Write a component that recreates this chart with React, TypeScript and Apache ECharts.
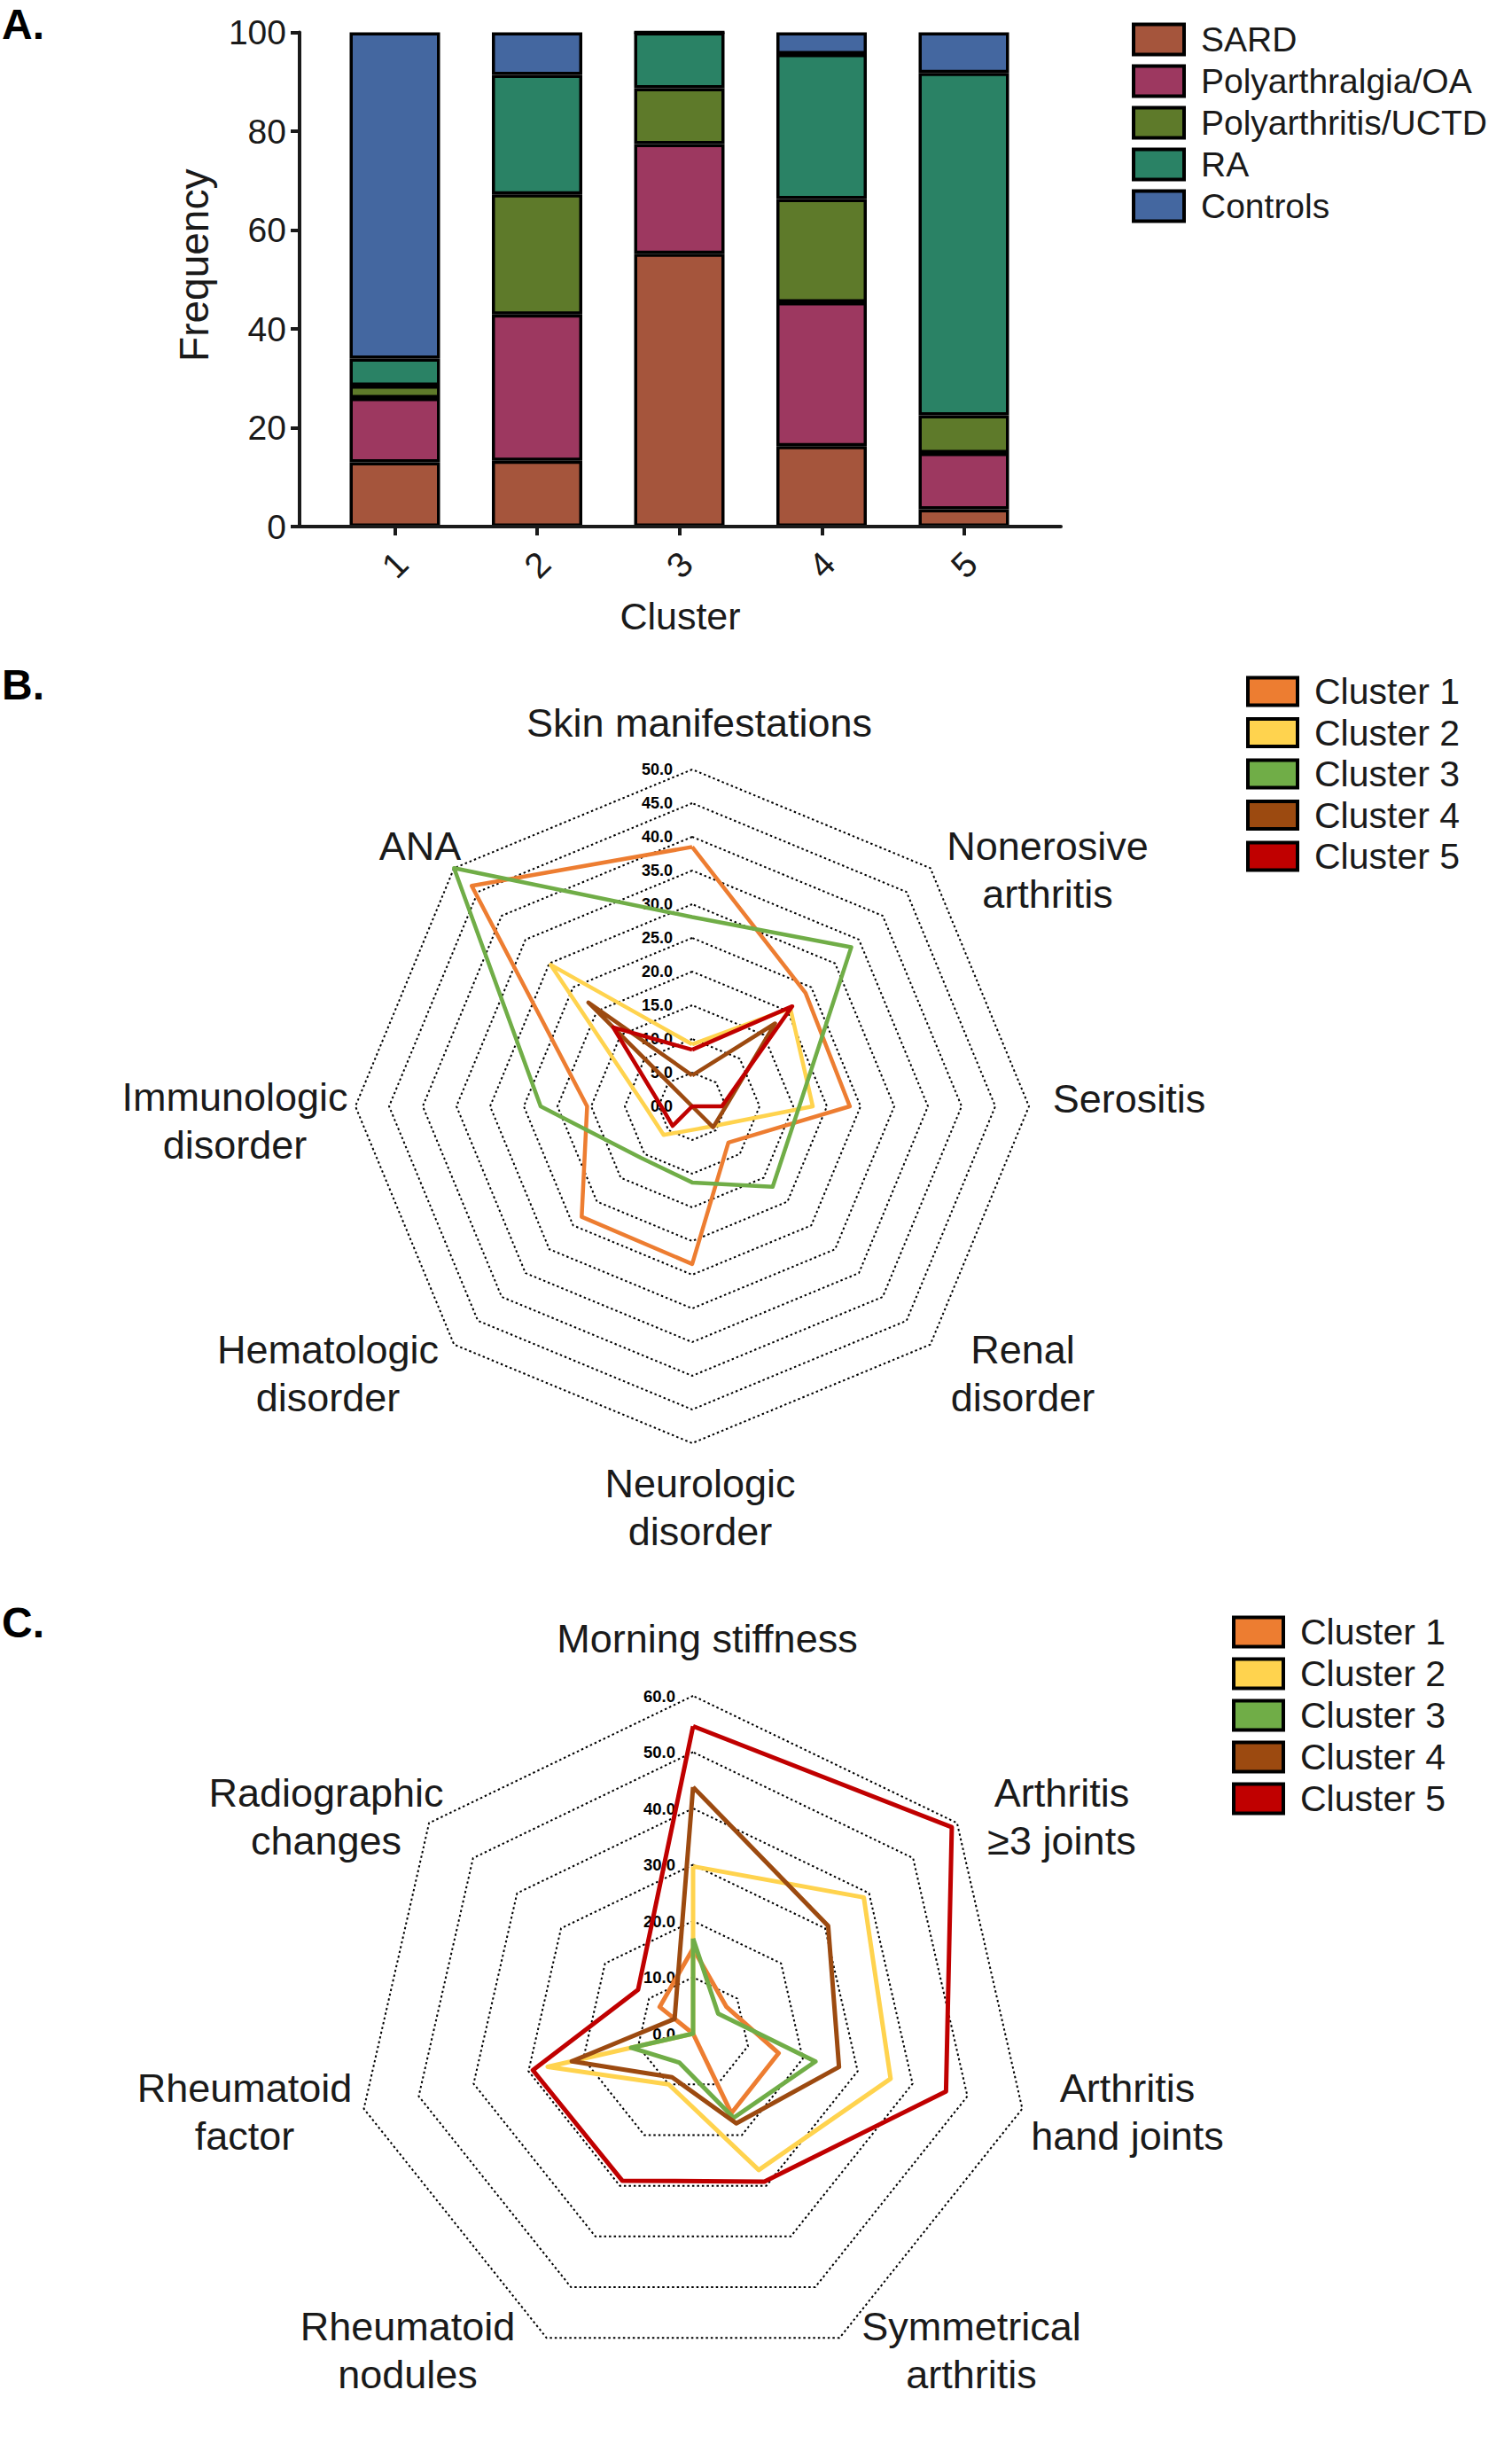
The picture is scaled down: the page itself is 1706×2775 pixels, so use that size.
import React, { useEffect, useRef } from 'react';
import * as echarts from 'echarts';

// ---------- Panel A data ----------
const clusterLabels = ['1', '2', '3', '4', '5'];
const clusterPositions = [1, 2, 3, 4, 5];
const diagnosisNames = ['SARD', 'Polyarthralgia/OA', 'Polyarthritis/UCTD', 'RA', 'Controls'];
const sardValues = [13.0, 13.3, 55.2, 16.3, 3.5];
const polyarthralgiaValues = [13.0, 29.6, 22.2, 29.1, 11.4];
const polyarthritisValues = [2.5, 24.3, 11.3, 20.9, 7.6];
const raValues = [5.5, 24.2, 11.3, 29.3, 69.3];
const controlsValues = [66.0, 8.6, 0.0, 4.4, 8.2];
const diagnosisColors = ['#A5553C', '#9D3860', '#5E7A2A', '#2A8265', '#4467A0'];

// ---------- Panel B data (indicator order counter-clockwise from top) ----------
const sleIndicators = [
  'Skin manifestations',
  'ANA',
  'Immunologic\ndisorder',
  'Hematologic\ndisorder',
  'Neurologic\ndisorder',
  'Renal\ndisorder',
  'Serositis',
  'Nonerosive\narthritis',
];
const sleMax = 50;
const sleCluster1 = [38.5, 46.3, 15.6, 23.2, 23.4, 7.6, 23.4, 23.8];
const sleCluster2 = [9.2, 29.7, 7.0, 6.0, 3.5, 4.2, 17.9, 20.6];
const sleCluster3 = [28.1, 50.0, 22.5, 10.8, 11.3, 16.9, 15.9, 33.4];
const sleCluster4 = [4.6, 21.8, 0.0, 0.0, 0.0, 4.4, 5.0, 17.4];
const sleCluster5 = [8.4, 16.6, 4.6, 4.1, 0.0, 0.0, 4.4, 21.0];

// ---------- Panel C data (indicator order counter-clockwise from top) ----------
const raIndicators = [
  'Morning stiffness',
  'Radiographic\nchanges',
  'Rheumatoid\nfactor',
  'Rheumatoid\nnodules',
  'Symmetrical\narthritis',
  'Arthritis\nhand joints',
  'Arthritis\n≥3 joints',
];
const raMax = 60;
const raCluster1 = [15.1, 7.6, 0.0, 0.0, 15.7, 15.6, 7.6];
const raCluster2 = [29.7, 0.0, 26.5, 10.0, 26.9, 36.0, 38.8];
const raCluster3 = [16.9, 0.0, 11.3, 5.7, 16.6, 22.3, 5.7];
const raCluster4 = [43.8, 4.2, 22.1, 8.6, 17.7, 26.6, 30.7];
const raCluster5 = [54.6, 12.5, 29.2, 29.0, 29.2, 46.1, 58.8];

const clusterNames = ['Cluster 1', 'Cluster 2', 'Cluster 3', 'Cluster 4', 'Cluster 5'];
const clusterColors = ['#ED7D31', '#FFD34E', '#70AD47', '#9C4A10', '#C00000'];

const FONT = '"Liberation Sans", Arial, Helvetica, sans-serif';
const INK = '#1a1a1a';

// label layout (positions only)
const sleNamePos: [number, number][] = [
  [789, 815],
  [474, 954],
  [265, 1264],
  [370, 1549],
  [790, 1700],
  [1154, 1549],
  [1274, 1239],
  [1182, 981],
];
const raNamePos: [number, number][] = [
  [798, 1848],
  [368, 2049],
  [276, 2382],
  [460, 2651],
  [1096, 2651],
  [1272, 2382],
  [1198, 2049],
];

function buildOption(): any {
  const barSeriesValues = [sardValues, polyarthralgiaValues, polyarthritisValues, raValues, controlsValues];
  const barSeries = diagnosisNames.map((name, si) => ({
    type: 'bar',
    name,
    stack: 'total',
    xAxisIndex: 1,
    yAxisIndex: 1,
    barWidth: 102,
    itemStyle: { color: diagnosisColors[si], borderColor: '#000', borderWidth: 3.5 },
    data: barSeriesValues[si],
  }));

  const sleData = [sleCluster1, sleCluster2, sleCluster3, sleCluster4, sleCluster5];
  const raData = [raCluster1, raCluster2, raCluster3, raCluster4, raCluster5];

  const radarCommon = {
    shape: 'polygon',
    startAngle: 90,
    axisName: { show: false },
    axisLine: { show: false },
    axisTick: { show: false },
    splitArea: { show: false },
    splitLine: { lineStyle: { color: '#000', width: 2, type: [2.5, 3] } },
  };

  const legendCommon = {
    orient: 'vertical',
    icon: 'rect',
    padding: 0,
    selectedMode: false,
    itemStyle: { borderColor: '#000', borderWidth: 4 },
  };

  const graphic: any[] = [
    { type: 'text', x: 2, y: 27.5, style: { text: 'A.', fontSize: 48, fontWeight: 'bold', fontFamily: FONT, fill: '#000', align: 'left', verticalAlign: 'middle' } },
    { type: 'text', x: 2, y: 772, style: { text: 'B.', fontSize: 48, fontWeight: 'bold', fontFamily: FONT, fill: '#000', align: 'left', verticalAlign: 'middle' } },
    { type: 'text', x: 2, y: 1830, style: { text: 'C.', fontSize: 48, fontWeight: 'bold', fontFamily: FONT, fill: '#000', align: 'left', verticalAlign: 'middle' } },
  ];
  sleIndicators.forEach((name, i) => {
    graphic.push({
      type: 'text', x: sleNamePos[i][0], y: sleNamePos[i][1],
      style: { text: name, fontSize: 45, fontFamily: FONT, fill: INK, align: 'center', verticalAlign: 'middle', lineHeight: 54 },
    });
  });
  raIndicators.forEach((name, i) => {
    graphic.push({
      type: 'text', x: raNamePos[i][0], y: raNamePos[i][1],
      style: { text: name, fontSize: 45, fontFamily: FONT, fill: INK, align: 'center', verticalAlign: 'middle', lineHeight: 54 },
    });
  });

  return {
    animation: false,
    backgroundColor: '#ffffff',
    textStyle: { fontFamily: FONT },
    grid: [
      // visible axes frame
      { left: 338, top: 36.5, width: 859, height: 557.5 },
      // bar plotting area (category bands centred on the cluster ticks)
      { left: 365.25, top: 36.5, width: 802.5, height: 557.5 },
    ],
    xAxis: [
      {
        type: 'value',
        gridIndex: 0,
        min: 0.33,
        max: 5.68,
        splitLine: { show: false },
        axisLine: { show: true, onZero: false, lineStyle: { color: INK, width: 4 } },
        axisTick: { show: true, customValues: clusterPositions, length: 10, inside: false, lineStyle: { color: INK, width: 4 } },
        axisLabel: {
          customValues: clusterPositions,
          formatter: (v: number) => clusterLabels[Math.round(v) - 1] ?? '',
          rotate: 45,
          align: 'center',
          verticalAlign: 'middle',
          margin: 43,
          fontSize: 40,
          color: INK,
          fontFamily: FONT,
        },
        name: 'Cluster',
        nameLocation: 'middle',
        nameGap: 79,
        nameTextStyle: { fontSize: 43, color: INK, fontFamily: FONT, verticalAlign: 'top' },
        z: 5,
      },
      {
        type: 'category',
        gridIndex: 1,
        data: clusterLabels,
        show: false,
      },
    ],
    yAxis: [
      {
        type: 'value',
        gridIndex: 0,
        min: 0,
        max: 100,
        interval: 20,
        splitLine: { show: false },
        axisLine: { show: true, onZero: false, lineStyle: { color: INK, width: 4 } },
        axisTick: { show: true, length: 10, inside: false, lineStyle: { color: INK, width: 4 } },
        axisLabel: { fontSize: 39, color: INK, margin: 15, fontFamily: FONT },
        name: 'Frequency',
        nameLocation: 'middle',
        nameRotate: 90,
        nameGap: 96,
        nameTextStyle: { fontSize: 46, color: INK, fontFamily: FONT, padding: [0, 0, 0, 32] },
        z: 5,
      },
      {
        type: 'value',
        gridIndex: 1,
        min: 0,
        max: 100,
        interval: 20,
        show: false,
        splitLine: { show: false },
      },
    ],
    radar: [
      {
        ...radarCommon,
        center: [781, 1248],
        radius: 380,
        splitNumber: 10,
        indicator: sleIndicators.map((name, i) => (
          i === 0
            ? { name, min: 0, max: sleMax, axisLabel: { show: true } }
            : { name, min: 0, max: sleMax }
        )),
        axisLabel: {
          show: false,
          formatter: (v: number) => Number(v).toFixed(1),
          fontSize: 18,
          fontWeight: 'bold',
          color: '#000',
          margin: 22,
          fontFamily: FONT,
        },
      },
      {
        ...radarCommon,
        center: [782, 2294],
        radius: 381,
        splitNumber: 6,
        indicator: raIndicators.map((name, i) => (
          i === 0
            ? { name, min: 0, max: raMax, axisLabel: { show: true } }
            : { name, min: 0, max: raMax }
        )),
        axisLabel: {
          show: false,
          formatter: (v: number) => Number(v).toFixed(1),
          fontSize: 18.5,
          fontWeight: 'bold',
          color: '#000',
          margin: 20,
          fontFamily: FONT,
        },
      },
    ],
    legend: [
      {
        ...legendCommon,
        data: diagnosisNames,
        left: 1277,
        top: 25,
        itemWidth: 57,
        itemHeight: 34,
        itemGap: 8,
        textStyle: { fontSize: 39, lineHeight: 38, color: INK, fontFamily: FONT, padding: [0, 0, 0, 14] },
      },
      {
        ...legendCommon,
        data: clusterNames,
        left: 1406,
        top: 759.5,
        itemWidth: 56,
        itemHeight: 31,
        itemGap: 5.5,
        textStyle: { fontSize: 41, lineHeight: 40, color: INK, fontFamily: FONT, padding: [0, 0, 0, 14] },
      },
      {
        ...legendCommon,
        data: clusterNames,
        left: 1390,
        top: 1820.5,
        itemWidth: 56,
        itemHeight: 33,
        itemGap: 6,
        textStyle: { fontSize: 41, lineHeight: 40, color: INK, fontFamily: FONT, padding: [0, 0, 0, 14] },
      },
    ],
    graphic,
    series: [
      ...barSeries,
      {
        type: 'radar',
        radarIndex: 0,
        symbol: 'none',
        data: clusterNames.map((name, i) => ({
          name,
          value: sleData[i],
          itemStyle: { color: clusterColors[i] },
          lineStyle: { color: clusterColors[i], width: 4.5 },
        })),
      },
      {
        type: 'radar',
        radarIndex: 1,
        symbol: 'none',
        data: clusterNames.map((name, i) => ({
          name,
          value: raData[i],
          itemStyle: { color: clusterColors[i] },
          lineStyle: { color: clusterColors[i], width: 5 },
        })),
      },
    ],
  };
}

export default function App() {
  const ref = useRef<HTMLDivElement>(null);
  useEffect(() => {
    document.body.style.margin = '0';
    if (!ref.current) return;
    const chart = echarts.init(ref.current, null, { renderer: 'svg' });
    chart.setOption(buildOption());
    return () => {
      chart.dispose();
    };
  }, []);
  return <div ref={ref} style={{ width: 1706, height: 2775, background: '#fff' }} />;
}
